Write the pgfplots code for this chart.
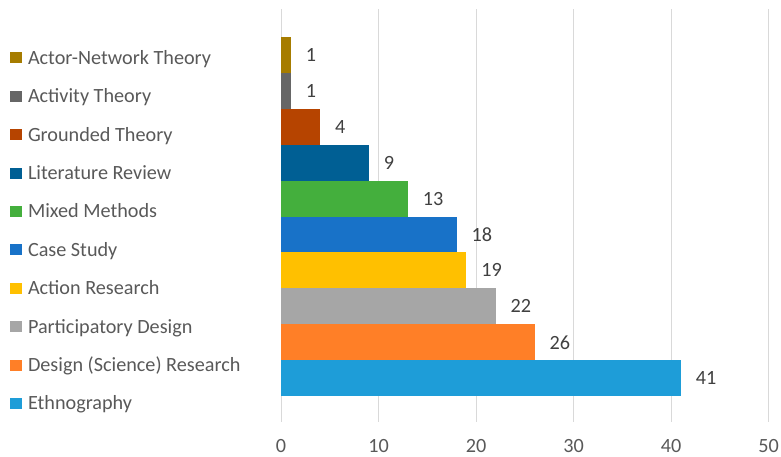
\documentclass[border=0pt]{standalone}
\usepackage{fontspec}
\setmainfont{Carlito}
\usepackage{pgfplots}
\pgfplotsset{compat=1.18}
\definecolor{cANT}{HTML}{A67C00}
\definecolor{cAT}{HTML}{666666}
\definecolor{cGT}{HTML}{B64400}
\definecolor{cLR}{HTML}{005F94}
\definecolor{cMM}{HTML}{44AF3D}
\definecolor{cCS}{HTML}{1872C8}
\definecolor{cAR}{HTML}{FFC000}
\definecolor{cPD}{HTML}{A6A6A6}
\definecolor{cDS}{HTML}{FF7F27}
\definecolor{cET}{HTML}{1E9DD8}
\definecolor{gridc}{HTML}{D9D9D9}
\definecolor{legc}{HTML}{595959}
\definecolor{labc}{HTML}{404040}
\newcommand{\chartfont}{\fontsize{20.2}{24}\selectfont}
\begin{document}
\begin{tikzpicture}
\path[use as bounding box] (0,0) rectangle (781pt,457pt);
\begin{axis}[
  at={(281pt,35pt)}, anchor=south west,
  scale only axis, width=487.5pt, height=413pt,
  xmin=0, xmax=50, ymin=-1.22, ymax=10.28,
  xtick={0,10,...,50}, ytick=\empty,
  xmajorgrids, grid style={color=gridc, line width=1pt},
  axis line style={draw=none}, major tick length=0pt,
  xbar, bar width=1, bar shift=0pt,
  nodes near coords, point meta=x,
  nodes near coords style={anchor=west, inner sep=0pt, xshift=15pt, text=labc, font=\chartfont},
  xticklabel style={anchor=base, inner sep=0pt, yshift=-31pt, text=legc, font=\chartfont},
  /pgf/number format/assume math mode=true,
  legend style={at={(axis description cs:-0.5559,0.9024)}, anchor=north west,
    draw=none, fill=none, inner sep=0pt, outer sep=0pt,
    row sep=18.4pt, column sep=6pt, font=\chartfont, text=legc,
    nodes={inner sep=0pt, text height=15pt, text depth=5pt},
    cells={anchor=base west}},
  legend image code/.code={\fill[#1] (0pt,1pt) rectangle (12pt,12pt);},
]
\addplot[fill=cANT, draw=none] coordinates {(1,9)};
\addlegendentry{Actor-Network Theory}
\addplot[fill=cAT, draw=none] coordinates {(1,8)};
\addlegendentry{Activity Theory}
\addplot[fill=cGT, draw=none] coordinates {(4,7)};
\addlegendentry{Grounded Theory}
\addplot[fill=cLR, draw=none] coordinates {(9,6)};
\addlegendentry{Literature Review}
\addplot[fill=cMM, draw=none] coordinates {(13,5)};
\addlegendentry{Mixed Methods}
\addplot[fill=cCS, draw=none] coordinates {(18,4)};
\addlegendentry{Case Study}
\addplot[fill=cAR, draw=none] coordinates {(19,3)};
\addlegendentry{Action Research}
\addplot[fill=cPD, draw=none] coordinates {(22,2)};
\addlegendentry{Participatory Design}
\addplot[fill=cDS, draw=none] coordinates {(26,1)};
\addlegendentry{Design (Science) Research}
\addplot[fill=cET, draw=none] coordinates {(41,0)};
\addlegendentry{Ethnography}
\end{axis}
\end{tikzpicture}
\end{document}
